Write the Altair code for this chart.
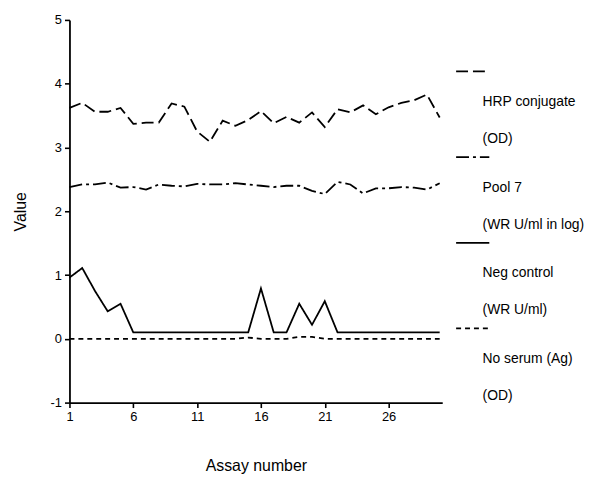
import altair as alt
import pandas as pd

# ---- data ----
assay = list(range(1, 31))
hrp_conjugate = [3.62, 3.70, 3.56, 3.56, 3.62, 3.37, 3.39, 3.39, 3.69, 3.64,
                 3.25, 3.09, 3.42, 3.34, 3.43, 3.57, 3.38, 3.48, 3.39, 3.55,
                 3.32, 3.60, 3.55, 3.66, 3.52, 3.63, 3.70, 3.74, 3.83, 3.47]
pool7 = [2.38, 2.42, 2.42, 2.45, 2.37, 2.38, 2.34, 2.42, 2.40, 2.39,
         2.43, 2.42, 2.42, 2.44, 2.42, 2.40, 2.38, 2.40, 2.40, 2.32,
         2.27, 2.46, 2.42, 2.28, 2.36, 2.36, 2.38, 2.37, 2.34, 2.44]
neg_control = [0.96, 1.11, 0.75, 0.43, 0.55, 0.10, 0.10, 0.10, 0.10, 0.10,
               0.10, 0.10, 0.10, 0.10, 0.10, 0.79, 0.10, 0.10, 0.55, 0.22,
               0.59, 0.10, 0.10, 0.10, 0.10, 0.10, 0.10, 0.10, 0.10, 0.10]
no_serum = [0.00, 0.00, 0.00, 0.00, 0.00, 0.00, 0.00, 0.00, 0.00, 0.00,
            0.00, 0.00, 0.00, 0.00, 0.02, 0.00, 0.00, 0.00, 0.03, 0.03,
            0.00, 0.00, 0.00, 0.00, 0.00, 0.00, 0.00, 0.00, 0.00, 0.00]

series_names = ["HRP conjugate", "Pool 7", "Neg control", "No serum (Ag)"]
series_units = ["(OD)", "(WR U/ml in log)", "(WR U/ml)", "(OD)"]
x_ticks = [1, 6, 11, 16, 21, 26]
y_ticks = [-1, 0, 1, 2, 3, 4, 5]

# ---- tables ----
rows = []
for name, vals in zip(series_names, [hrp_conjugate, pool7, neg_control, no_serum]):
    for a, v in zip(assay, vals):
        rows.append({"series": name, "assay": a, "value": v})
df = pd.DataFrame(rows)

FONT = "Liberation Sans"
LW = 1.8
dash_scale = alt.Scale(domain=series_names,
                       range=[[12, 5], [13, 4, 3, 4], [1, 0], [5, 4]])

main = alt.Chart(df).mark_line(color="black", strokeWidth=LW, clip=False).encode(
    x=alt.X("assay:Q",
            scale=alt.Scale(domain=[1, 30.2], nice=False, zero=False),
            axis=alt.Axis(values=x_ticks, title="Assay number", titlePadding=34,
                          labelFlush=False)),
    y=alt.Y("value:Q",
            scale=alt.Scale(domain=[-1, 5], nice=False, zero=False),
            axis=alt.Axis(values=y_ticks, title="Value", titlePadding=22,
                          labelExpr="'' + datum.value")),
    strokeDash=alt.StrokeDash("series:N", scale=dash_scale, legend=None),
    order="assay:Q",
).properties(width=376, height=386)

# ---- hand-made legend panel (entry k: swatch, then two text lines below) ----
sw_rows, txt_rows = [], []
for k, (n, u) in enumerate(zip(series_names, series_units)):
    sw_rows.append({"series": n, "pos": k})
    txt_rows.append({"label": n, "pos": k + 0.359})
    txt_rows.append({"label": u, "pos": k + 0.787})
sw_df = pd.DataFrame(sw_rows)
txt_df = pd.DataFrame(txt_rows)

leg_x = alt.Scale(domain=[0, 1], nice=False, zero=False)
leg_y = alt.Scale(domain=[-0.602, 3.866], nice=False, zero=False, reverse=True)

swatch = alt.Chart(sw_df).mark_rule(color="black", strokeWidth=LW).encode(
    x=alt.X(datum=0.0, scale=leg_x, axis=None),
    x2=alt.X2(datum=0.27),
    y=alt.Y("pos:Q", scale=leg_y, axis=None),
    strokeDash=alt.StrokeDash("series:N", scale=dash_scale, legend=None),
)
labels = alt.Chart(txt_df).mark_text(
    align="left", baseline="middle", font=FONT, fontSize=14, color="black"
).encode(
    x=alt.X(datum=0.215, scale=leg_x, axis=None),
    y=alt.Y("pos:Q", scale=leg_y, axis=None),
    text="label:N",
)
legend_panel = alt.layer(swatch, labels).properties(width=124, height=386)

chart = alt.hconcat(main, legend_panel, spacing=11).properties(
    padding={"left": 4, "top": 4, "right": 0, "bottom": 0},
    background="white",
).configure_view(strokeWidth=0).configure_axis(
    grid=False,
    domainColor="black", domainWidth=1.8,
    tickColor="black", tickWidth=1.6, tickSize=5,
    labelFont=FONT, labelFontSize=13, labelColor="black", labelPadding=3,
    titleFont=FONT, titleFontSize=16, titleFontWeight="normal", titleColor="black",
)

chart.save("out.html", embed_options={"renderer": "svg", "actions": False})
